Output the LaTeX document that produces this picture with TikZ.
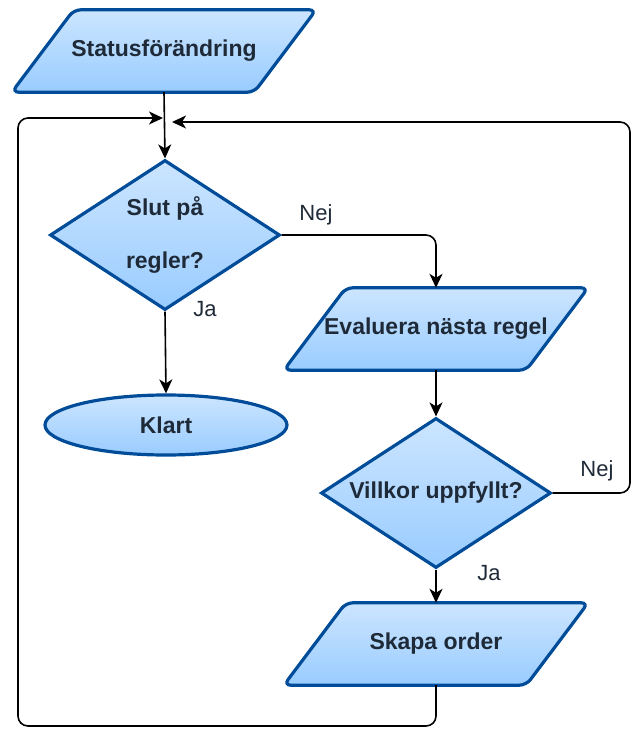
\documentclass[tikz,border=0pt]{standalone}
\usepackage{fontspec}
\setmainfont{Liberation Sans}
\usetikzlibrary{arrows.meta, positioning, shapes.geometric, calc, backgrounds}
\definecolor{flowTop}{HTML}{CCE5FF}
\definecolor{flowBottom}{HTML}{99CCFF}
\definecolor{flowEdge}{HTML}{004C99}
\definecolor{flowText}{HTML}{1F2A38}
\tikzset{
  arrowK/.style={-{Stealth[length=14pt, width=13pt, inset=4pt]}, black,
                 line width=1.6pt, rounded corners=10pt},
  frameB/.style={draw=flowEdge, line width=3.2pt, top color=flowTop,
                 bottom color=flowBottom},
  baseBox/.style={frameB, text=flowText, align=center,
                  font=\fontsize{23}{27}\selectfont\bfseries, inner sep=0pt},
  ioBox/.style={rectangle, text=flowText, align=center,
                font=\fontsize{23}{27}\selectfont\bfseries, inner sep=0pt,
                minimum width=304pt, minimum height=82pt},
  ioFrame/.style={frameB, rounded corners=7pt},
  decBox/.style={baseBox, diamond, aspect=1.6, minimum width=230pt,
                 minimum height=150pt},
  endBox/.style={baseBox, ellipse, minimum width=242pt, minimum height=60pt},
  lbl/.style={font=\fontsize{22}{26}\selectfont, text=flowText},
}
\begin{document}
\begin{tikzpicture}[x=1pt, y=-1pt]
    \useasboundingbox (0,0) rectangle (632,729);
    % vänster kolumn
    \node[ioBox] (status) at (164,51) {Statusförändring};
    \node[decBox] (slut) at (165,235) {Slut på\\[26pt]regler?};
    \node[endBox] (klart) at (166,425) {Klart};
    % höger kolumn
    \node[ioBox] (eval) at (436,329) {Evaluera nästa regel};
    \node[decBox] (villkor) at (436,493) {Villkor uppfyllt?};
    \node[ioBox] (skapa) at (436,644) {Skapa order};
    % parallellogrammer bakom texten
    \begin{scope}[on background layer]
      \foreach \n in {status, eval, skapa} {
        \draw[ioFrame] (\n.south west) -- ([xshift=62pt]\n.north west)
          -- (\n.north east) -- ([xshift=-62pt]\n.south east) -- cycle;
      }
    \end{scope}
    % etiketter
    \node[lbl] (nej1) at (316,215) {Nej};
    \node[lbl] (ja1) at (205,309) {Ja};
    \node[lbl] (nej2) at (597,471) {Nej};
    \node[lbl] (ja2) at (489,573) {Ja};
    % hörn för slingorna
    \coordinate (inL) at (163,118);
    \coordinate (inR) at (172,122);
    \coordinate (cBL) at (18,726);
    \coordinate (cTL) at (18,118);
    \coordinate (cR) at (630,493);
    \coordinate (cTR) at (630,122);
    % pilar
    \draw[arrowK] (status.south) -- (slut.north);
    \draw[arrowK] (slut.east) -| (eval.north);
    \draw[arrowK] (slut.south) -- (klart.north);
    \draw[arrowK] (eval.south) -- (villkor.north);
    \draw[arrowK] (villkor.south) -- (skapa.north);
    \draw[arrowK] (villkor.east) -- (cR) -- (cTR) -- (inR);
    \draw[arrowK] (skapa.south) |- (cBL) -- (cTL) -- (inL);
  \end{tikzpicture}
\end{document}
